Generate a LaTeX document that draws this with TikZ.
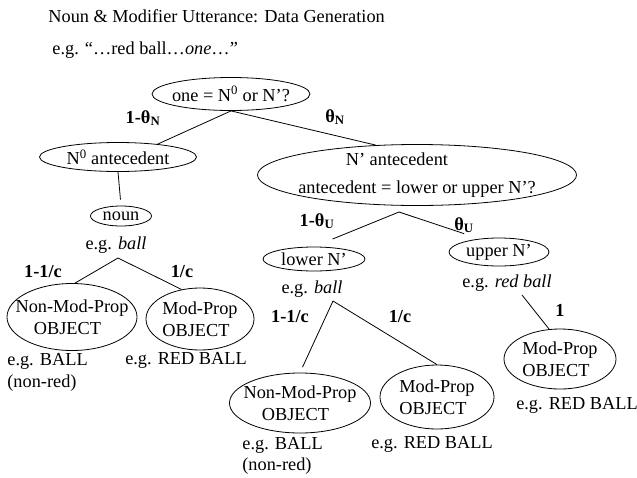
\documentclass[tikz,border=0pt]{standalone}
\usepackage{fontspec}
\setmainfont{Liberation Serif}
\usetikzlibrary{shapes.geometric}
\newcommand{\bodysize}{\fontsize{18.3}{21.5}\selectfont}

\begin{document}
\begin{tikzpicture}[x=1pt, y=-1pt, line width=0.8pt,
        every node/.style={inner sep=0pt, font=\bodysize},
        oval/.style={draw, ellipse, inner sep=-30pt},
        prob/.style={font=\bodysize\bfseries}]
        \useasboundingbox (0,0) rectangle (637,477);

        \node[anchor=west] (title) at (48,16) {Noun \& Modifier Utterance: Data Generation};
        \node[anchor=west] (example) at (52,50) {e.g. “…red ball…\textit{one}…”};

        % 树的节点
        \node[oval, minimum width=158, minimum height=33] (root) at (231,94) {one = N\textsuperscript{0} or N’?};
        \node[oval, minimum width=157, minimum height=29] (n0) at (118,157) {N\textsuperscript{0} antecedent};
        \node[oval, minimum width=319, minimum height=61, align=left] (nbar) at (417,175)
            {\hspace*{2.6em}N’ antecedent\\[6pt]antecedent = lower or upper N’?};
        \node[oval, minimum width=61, minimum height=20] (noun) at (121,216) {noun};
        \node[oval, minimum width=102, minimum height=24] (lower) at (314,259) {lower N’};
        \node[oval, minimum width=100, minimum height=28] (upper) at (499,252) {upper N’};

        \node (egnoun) at (116,245) {e.g. \textit{ball}};
        \node (eglower) at (312,289) {e.g. \textit{ball}};
        \node (egupper) at (507,283) {e.g. \textit{red ball}};

        % 叶子
        \node[oval, minimum width=130, minimum height=67, align=left] (nm1) at (72,317) {Non-Mod-Prop\\\hspace*{1em}OBJECT};
        \node[oval, minimum width=108, minimum height=62, align=left] (mp1) at (200,319) {Mod-Prop\\OBJECT};
        \node[oval, minimum width=141, minimum height=60, align=left] (nm2) at (300,403) {Non-Mod-Prop\\\hspace*{1em}OBJECT};
        \node[oval, minimum width=114, minimum height=64, align=left] (mp2) at (437,397) {Mod-Prop\\OBJECT};
        \node[oval, minimum width=112, minimum height=60, align=left] (mp3) at (560,359) {Mod-Prop\\OBJECT};

        \node[anchor=west, align=left] (egnm1) at (7,372.5) {e.g. BALL\\(non-red)};
        \node (egmp1) at (186,360) {e.g. RED BALL};
        \node[anchor=west, align=left] (egnm2) at (242,456) {e.g. BALL\\(non-red)};
        \node (egmp2) at (432,444) {e.g. RED BALL};
        \node (egmp3) at (577,405) {e.g. RED BALL};

        \coordinate (forkA) at (118,258);
        \coordinate (forkU) at (399,212);
        \coordinate (forkB) at (333,301);
        \coordinate (forkC) at (522,295);

        % 连线
        \foreach \a/\b in {root.south/n0.18, root.south/nbar.144, forkA/nm1.85,
                forkA/mp1.122, forkB/mp2.north, forkC/mp3.110}
            {
                \draw (\a) -- (\b);
            }
        \draw[shorten >=6pt] (n0.south) -- (noun.north);
        \draw[shorten >=20pt] (forkU) -- (lower.north);
        \draw[shorten >=16pt] (forkU) -- (upper.146);
        \draw[shorten >=6pt] (forkB) -- (nm2.north);

        % 概率
        \node[prob] (pn0) at (143,118) {1-θ\textsubscript{N}};
        \node[prob] (pn1) at (335,117) {θ\textsubscript{N}};
        \node[prob] (pu0) at (317,221) {1-θ\textsubscript{U}};
        \node[prob] (pu1) at (464,225) {θ\textsubscript{U}};
        \node[prob] (pa0) at (43,272) {1-1/c};
        \node[prob] (pa1) at (182,272) {1/c};
        \node[prob] (pb0) at (290,317) {1-1/c};
        \node[prob] (pb1) at (400,317) {1/c};
        \node[prob] (pc1) at (560,310) {1};
    \end{tikzpicture}
\end{document}
